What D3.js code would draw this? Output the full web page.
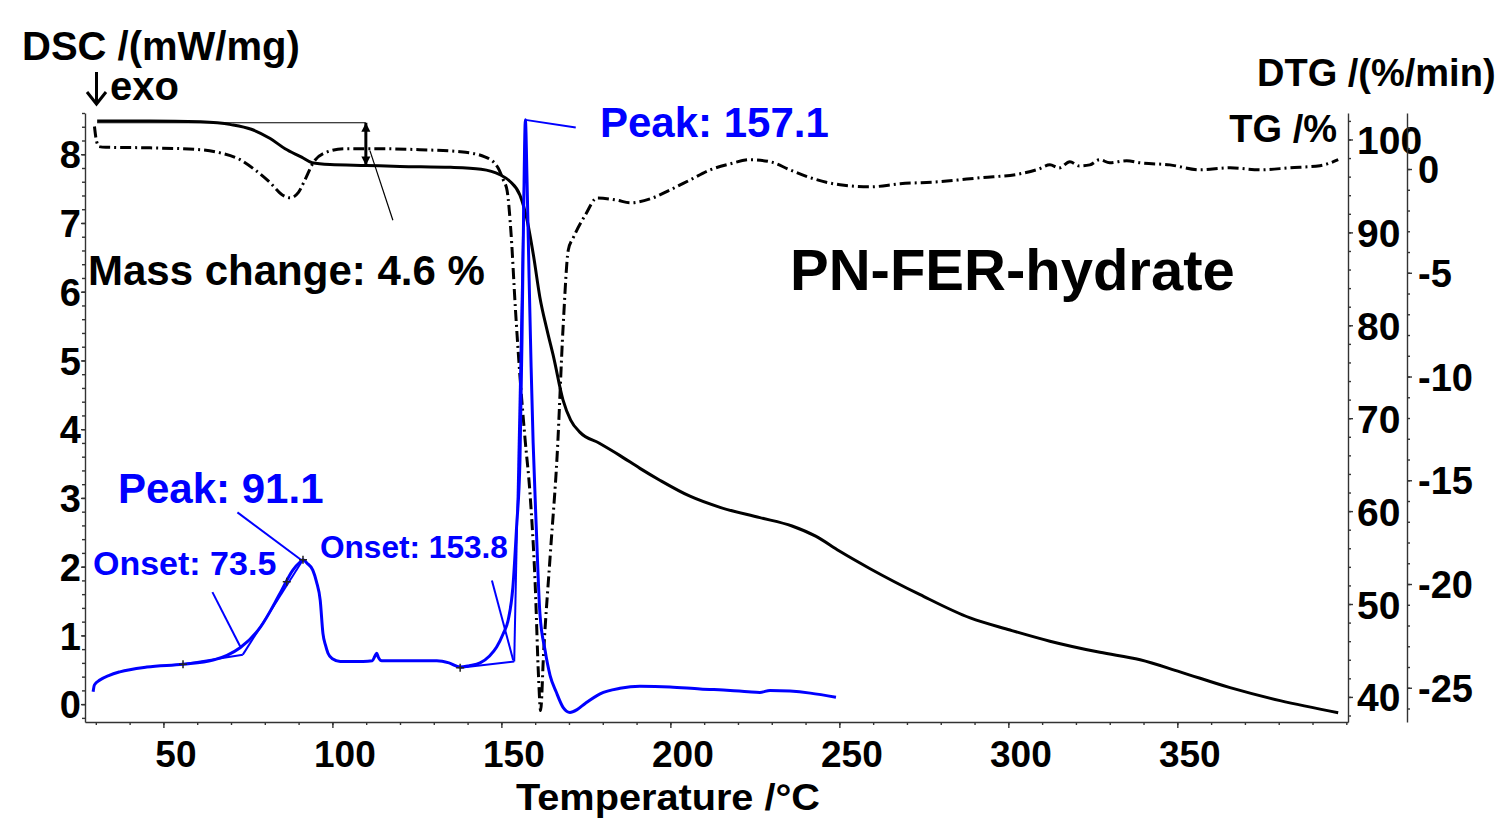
<!DOCTYPE html>
<html>
<head>
<meta charset="utf-8">
<script src="https://cdn.jsdelivr.net/npm/d3@7"></script>
<style>
  body { margin: 0; background: #fff; }
  svg text { font-family: "Liberation Sans", Arial, sans-serif; font-weight: bold; }
  .axis path, .axis line { stroke: #333; stroke-width: 1.4; }
</style>
</head>
<body>
<div id="chart"></div>
<script>
// tick values
const xTicks = [50, 100, 150, 200, 250, 300, 350];
const dscTicks = [0, 1, 2, 3, 4, 5, 6, 7, 8];
const tgTicks = [40, 50, 60, 70, 80, 90, 100];
const dtgTicks = [-25, -20, -15, -10, -5, 0];

// TG /% vs temperature (solid black)
const tgData = [
  [30.4, 102.0], [46, 102.0], [61, 101.9], [70, 101.6], [76, 101.1], [81.6, 100.1],
  [86, 99.0], [90.9, 98.1], [94, 97.5], [99.3, 97.3], [110, 97.2], [120, 97.1],
  [135, 97.0], [144, 96.8], [149.6, 96.2], [152.5, 95.5], [155.5, 94.0], [157.5, 91.5],
  [159.5, 87.5], [161.4, 83.0], [163.5, 79.5], [165.5, 76.5], [168.2, 72.0], [170.5, 69.8],
  [173.2, 68.5], [179, 67.3], [185, 66.0], [191, 64.6], [197, 63.3], [205.8, 61.6],
  [214.7, 60.4], [226.5, 59.3], [236, 58.4], [243, 57.3], [250, 55.7], [259.1, 53.8],
  [273.9, 51.0], [288.7, 48.5], [300.5, 47.2], [312.3, 46.0], [327.1, 44.8], [339, 44.0],
  [350.8, 42.7], [365.6, 41.0], [380.4, 39.6], [397.6, 38.3]
];

// DTG /(%/min) vs temperature (dash-dot black)
const dtgData = [
  [29.6, 2.05], [30.2, 1.35], [31.0, 1.08], [33, 1.05], [46.1, 1.02], [60.9, 0.93],
  [66.8, 0.78], [72.7, 0.45], [77.1, -0.04], [81.6, -0.66], [85.1, -1.24], [87.5, -1.39],
  [89.9, -1.14], [91.9, -0.52], [94.3, 0.30], [97.8, 0.78], [103.7, 0.98], [114.1, 0.98],
  [125.9, 0.93], [137.8, 0.83], [145.1, 0.59], [149.0, 0.06], [150.5, -0.5], [151.7, -1.05],
  [152.9, -3.2], [154.1, -6.6], [155.5, -10.0], [157.0, -13.0], [158.5, -15.7], [160.0, -20.0],
  [161.0, -24.5], [161.6, -26.1], [162.5, -23.3], [164.5, -18.5], [166.5, -13.8], [168.3, -7.5],
  [169.8, -3.9], [171.3, -3.3], [174.9, -2.2], [178.3, -1.4], [184.2, -1.5], [188.1, -1.63],
  [194.1, -1.43], [200.0, -1.0], [205.9, -0.52], [211.8, -0.04], [217.7, 0.25], [223.6, 0.45],
  [229.5, 0.35], [235.4, -0.04], [241.4, -0.42], [250.2, -0.76], [259.1, -0.86], [268.0, -0.71],
  [279.8, -0.61], [291.6, -0.42], [303.5, -0.23], [309, 0.0], [312.3, 0.2], [315, 0.05],
  [318.2, 0.35], [321, 0.15], [324.1, 0.2], [327, 0.45], [330.0, 0.3], [335, 0.4],
  [339.0, 0.3], [347.8, 0.2], [356.7, -0.04], [365.6, 0.06], [374.5, -0.04], [383.3, 0.06],
  [392.2, 0.16], [397.6, 0.45]
];

// DSC /(mW/mg) vs temperature (blue)
const dscData = [
  [29.2, 0.18], [29.6, 0.28], [31.2, 0.35], [34, 0.42], [37.1, 0.47], [45.1, 0.54],
  [55.8, 0.58], [64.7, 0.64], [68.8, 0.71], [72.7, 0.82], [78.7, 1.12], [84.6, 1.62],
  [88.3, 1.95], [90.5, 2.07], [91.3, 2.10], [92.5, 2.05], [94.2, 1.95], [95.3, 1.78],
  [96.4, 1.51], [97.2, 1.03], [98.0, 0.85], [98.7, 0.74], [100.0, 0.66], [102.3, 0.62],
  [109.1, 0.62], [111.8, 0.63], [112.6, 0.70], [113.1, 0.74], [113.6, 0.68], [114.6, 0.63],
  [122, 0.63], [130.9, 0.63], [134.5, 0.60], [137.8, 0.54], [140.5, 0.56], [143.7, 0.60],
  [146.5, 0.70], [148.6, 0.83], [150.5, 1.02], [152.0, 1.22], [153.4, 1.70], [154.5, 2.58],
  [155.5, 3.55], [156.1, 5.3], [156.6, 7.2], [157.1, 8.5], [157.6, 7.6], [158.2, 6.2],
  [158.8, 4.9], [159.4, 3.8], [160.3, 2.6], [161.4, 1.32], [162.9, 0.79], [164.4, 0.42],
  [166.2, 0.18], [168.3, -0.05], [170.3, -0.12], [172.4, -0.08], [174.8, 0.01], [179.2, 0.15],
  [185.1, 0.23], [191.0, 0.26], [199.9, 0.25], [208.8, 0.22], [217.7, 0.20], [223, 0.18],
  [226.5, 0.17], [229.5, 0.20], [235.4, 0.19], [241.4, 0.16], [249.0, 0.10]
];

// DSC evaluation lines (baseline / tangent / leader), [T, DSC] pairs
const dscConstruction = [
  [[55.8, 0.58], [73.5, 0.72]],
  [[73.5, 0.72], [91.3, 2.10]],
  [[64.5, 1.63], [72.8, 0.83]],
  [[71.9, 2.79], [91.0, 2.09]],
  [[137.8, 0.53], [153.8, 0.62]],
  [[153.8, 0.62], [157.1, 8.5]],
  [[147.2, 1.80], [153.5, 0.64]],
  [[157.1, 8.5], [172.0, 8.39]]
];
const dscMarks = [[55.8, 0.58], [86.5, 1.78], [91.3, 2.10], [137.8, 0.53]];

// TG mass step annotation: start T, end T, upper TG, lower TG
const massStep = { t0: 30.4, t1: 109.9, top: 101.8, bottom: 97.2 };

const W = 1500, H = 818;
const plot = { left: 85, right: 1348, top: 113, bottom: 722 };
const blue = "#0000ff";

const svg = d3.select("#chart").append("svg")
  .attr("width", W).attr("height", H);

const x = d3.scaleLinear().domain([26.8, 400.5]).range([plot.left, plot.right]);
const yDsc = d3.scaleLinear().domain([-0.26, 8.6]).range([plot.bottom, plot.top]);
const yTg = d3.scaleLinear().domain([37.3, 102.85]).range([plot.bottom, plot.top]);
const yDtg = d3.scaleLinear().domain([-26.65, 2.7]).range([plot.bottom, plot.top]);

// axes: minor ticks first, major ticks with labels on top
function axisPair(gen, scale, transform, minor, major, sizeMinor, sizeMajor) {
  svg.append("g").attr("class", "axis").attr("transform", transform)
    .call(gen(scale).tickValues(minor).tickSize(sizeMinor).tickSizeOuter(0).tickFormat(""));
  return svg.append("g").attr("class", "axis").attr("transform", transform)
    .call(gen(scale).tickValues(major).tickSize(sizeMajor).tickSizeOuter(0).tickFormat(d => String(d)))
    .call(g => g.select(".domain").remove());
}

const xMinor = d3.range(30, 401, 10);
const dscMinor = d3.range(-1, 44).map(i => i / 5);
const tgMinor = d3.range(38, 103, 2);
const dtgMinor = d3.range(-26, 3, 1);

axisPair(d3.axisBottom, x, `translate(0,${plot.bottom})`, xMinor, xTicks, 3, 6)
  .selectAll("text")
  .attr("x", 12).attr("y", 45).attr("dy", 0)
  .style("font-size", "37px").attr("fill", "#000");

axisPair(d3.axisLeft, yDsc, `translate(${plot.left},0)`, dscMinor, dscTicks, 3, 4)
  .selectAll("text")
  .attr("x", -4).attr("dy", "0.36em")
  .style("font-size", "38px").attr("fill", "#000");

axisPair(d3.axisRight, yTg, `translate(${plot.right},0)`, tgMinor, tgTicks, 3, 5)
  .selectAll("text")
  .attr("x", 9).attr("dy", "0.36em")
  .style("font-size", "39px").attr("fill", "#000");

axisPair(d3.axisRight, yDtg, `translate(1407,0)`, dtgMinor, dtgTicks, 3, 5)
  .selectAll("text")
  .attr("x", 11).attr("dy", "0.36em")
  .style("font-size", "38px").attr("fill", "#000");

// curves
const lineOf = (ys) => d3.line().x(d => x(d[0])).y(d => ys(d[1])).curve(d3.curveMonotoneX);

svg.append("path").datum(dtgData)
  .attr("d", lineOf(yDtg))
  .attr("fill", "none").attr("stroke", "#000").attr("stroke-width", 3)
  .attr("stroke-dasharray", "11,4,2,4");

svg.append("path").datum(tgData)
  .attr("d", lineOf(yTg))
  .attr("fill", "none").attr("stroke", "#000").attr("stroke-width", 3);

svg.append("g").selectAll("line").data(dscConstruction).join("line")
  .attr("x1", d => x(d[0][0])).attr("y1", d => yDsc(d[0][1]))
  .attr("x2", d => x(d[1][0])).attr("y2", d => yDsc(d[1][1]))
  .attr("stroke", blue).attr("stroke-width", 2);

svg.append("path").datum(dscData)
  .attr("d", lineOf(yDsc))
  .attr("fill", "none").attr("stroke", blue).attr("stroke-width", 3);

svg.append("g").selectAll("path").data(dscMarks).join("path")
  .attr("d", d => `M${x(d[0]) - 4},${yDsc(d[1])}h8M${x(d[0])},${yDsc(d[1]) - 4}v8`)
  .attr("stroke", "#222").attr("stroke-width", 1.5);

// mass change annotation
const defs = svg.append("defs");
defs.append("marker").attr("id", "arrow")
  .attr("viewBox", "0 0 10 10").attr("refX", 10).attr("refY", 5)
  .attr("markerWidth", 9).attr("markerHeight", 12).attr("markerUnits", "userSpaceOnUse")
  .attr("orient", "auto-start-reverse")
  .append("path").attr("d", "M0,0L10,5L0,10z").attr("fill", "#000");

svg.append("line")
  .attr("x1", x(massStep.t0)).attr("x2", x(massStep.t1))
  .attr("y1", yTg(massStep.top)).attr("y2", yTg(massStep.top))
  .attr("stroke", "#000").attr("stroke-width", 1.2);
svg.append("line")
  .attr("x1", x(massStep.t1)).attr("x2", x(massStep.t1))
  .attr("y1", yTg(massStep.bottom)).attr("y2", yTg(massStep.top))
  .attr("stroke", "#000").attr("stroke-width", 3)
  .attr("marker-start", "url(#arrow)").attr("marker-end", "url(#arrow)");
svg.append("line")
  .attr("x1", x(111.1)).attr("y1", yTg(98.8))
  .attr("x2", x(117.9)).attr("y2", yTg(91.3))
  .attr("stroke", "#000").attr("stroke-width", 1.2);

// texts
function label(txt, px, py, size, opts = {}) {
  const t = svg.append("text")
    .attr("x", px).attr("y", py)
    .attr("text-anchor", opts.anchor || "start")
    .attr("fill", opts.color || "#000")
    .style("font-size", size + "px")
    .text(txt);
  if (opts.len) t.attr("textLength", opts.len).attr("lengthAdjust", "spacingAndGlyphs");
  return t;
}

label("DSC /(mW/mg)", 22, 60, 40);
// down arrow of "↓exo"
svg.append("path")
  .attr("d", "M96.5,72V104M87,92L96.5,104L106,92")
  .attr("fill", "none").attr("stroke", "#000").attr("stroke-width", 3);
label("exo", 110, 100, 40);
label("DTG /(%/min)", 1257, 86, 38);
label("TG /%", 1337, 142, 38, { anchor: "end" });
label("Temperature /°C", 516, 809.5, 37.5, { len: 304 });
label("PN-FER-hydrate", 790, 290, 58);
label("Mass change: 4.6 %", 88, 285, 42);
label("Peak: 157.1", 600, 137, 42, { color: blue });
label("Peak: 91.1", 118, 503, 42, { color: blue });
label("Onset: 73.5", 93, 575, 34, { color: blue });
label("Onset: 153.8", 320, 558, 31.6, { color: blue });
</script>
</body>
</html>
